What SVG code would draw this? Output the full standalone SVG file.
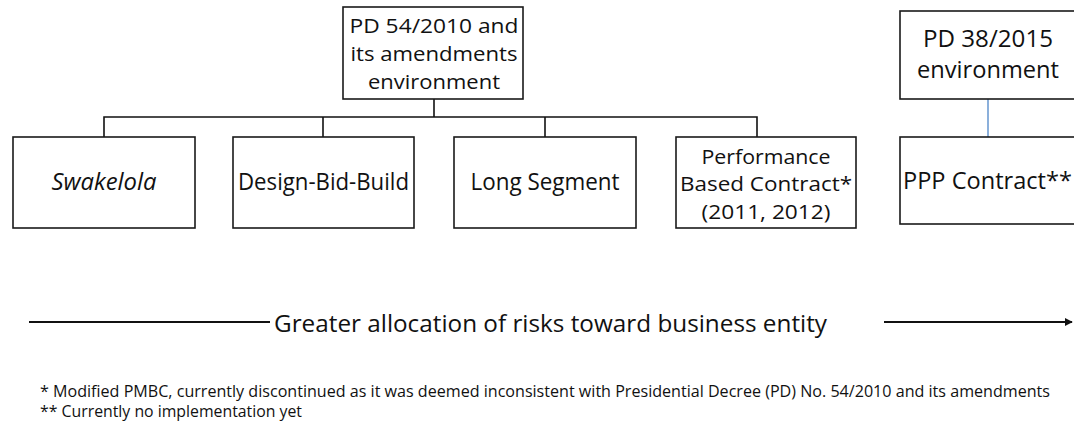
<svg xmlns="http://www.w3.org/2000/svg" width="1074" height="421" viewBox="0 0 1074 421">
  <defs>
    <style>
      .box { fill: #ffffff; stroke: #1a1a1a; stroke-width: 1.6; }
      .lbl { font-family: "Open Sans", "Liberation Sans", sans-serif; font-size: 23px; fill: #111111; }
      .tight { font-size: 20px; }
      .mid { text-anchor: middle; }
      .big { font-family: "Open Sans", "Liberation Sans", sans-serif; font-size: 24px; fill: #111111; }
      .note { font-family: "Open Sans", "Liberation Sans", sans-serif; font-size: 16px; fill: #111111; }
      .wire { fill: none; stroke: #111111; stroke-width: 1.6; }
      .wire-blue { fill: none; stroke: #5b8fcc; stroke-width: 1.4; }
      .axis { fill: none; stroke: #111111; stroke-width: 1.8; }
    </style>
    <marker id="head" viewBox="0 0 10 10" refX="9" refY="5" markerWidth="4.5" markerHeight="4.5" markerUnits="strokeWidth" orient="auto">
      <path d="M0,0 L10,5 L0,10 z" fill="#111111"/>
    </marker>
  </defs>

  <rect width="1074" height="421" fill="#ffffff"/>

  <!-- connectors -->
  <g id="connectors">
    <path class="wire" d="M434,99 V117"/>
    <path class="wire" d="M104,137 V117 H757 V137"/>
    <path class="wire" d="M323,117 V137"/>
    <path class="wire" d="M545,117 V137"/>
    <path class="wire-blue" d="M988,99 V137"/>
  </g>

  <!-- regime: PD 54/2010 -->
  <g id="pd54">
    <rect class="box" x="343" y="7" width="180" height="92"/>
    <text class="lbl tight mid" x="434" y="33" textLength="169" lengthAdjust="spacingAndGlyphs">PD 54/2010 and</text>
    <text class="lbl tight mid" x="434" y="61" textLength="167" lengthAdjust="spacingAndGlyphs">its amendments</text>
    <text class="lbl tight mid" x="434" y="89" textLength="132" lengthAdjust="spacingAndGlyphs">environment</text>
  </g>

  <!-- regime: PD 38/2015 -->
  <g id="pd38">
    <rect class="box" x="900" y="11" width="190" height="88"/>
    <text class="lbl mid" x="988" y="47" textLength="130" lengthAdjust="spacingAndGlyphs">PD 38/2015</text>
    <text class="lbl mid" x="988" y="78" textLength="142" lengthAdjust="spacingAndGlyphs">environment</text>
  </g>

  <!-- contract schemes -->
  <g id="swakelola">
    <rect class="box" x="13" y="137" width="182" height="91"/>
    <text class="lbl mid" x="104" y="190" font-style="italic" textLength="105" lengthAdjust="spacingAndGlyphs">Swakelola</text>
  </g>

  <g id="dbb">
    <rect class="box" x="233" y="137" width="181" height="91"/>
    <text class="lbl mid" x="323.5" y="190" textLength="171" lengthAdjust="spacingAndGlyphs">Design-Bid-Build</text>
  </g>

  <g id="long-segment">
    <rect class="box" x="454" y="137" width="182" height="91"/>
    <text class="lbl mid" x="545" y="190" textLength="149" lengthAdjust="spacingAndGlyphs">Long Segment</text>
  </g>

  <g id="pbc">
    <rect class="box" x="676" y="137" width="180" height="91"/>
    <text class="lbl tight mid" x="766" y="164" textLength="129" lengthAdjust="spacingAndGlyphs">Performance</text>
    <text class="lbl tight mid" x="766" y="191" textLength="172" lengthAdjust="spacingAndGlyphs">Based Contract*</text>
    <text class="lbl tight mid" x="766" y="219" textLength="129" lengthAdjust="spacingAndGlyphs">(2011, 2012)</text>
  </g>

  <g id="ppp">
    <rect class="box" x="900" y="137" width="190" height="87"/>
    <text class="lbl" x="903" y="189" textLength="169" lengthAdjust="spacingAndGlyphs">PPP Contract**</text>
  </g>

  <!-- risk allocation axis -->
  <g id="risk-axis">
    <path class="axis" d="M29,322 H270"/>
    <text class="big" x="274" y="332" textLength="553" lengthAdjust="spacingAndGlyphs">Greater allocation of risks toward business entity</text>
    <path class="axis" d="M884,322 H1072" marker-end="url(#head)"/>
  </g>

  <!-- footnotes -->
  <g id="notes">
    <text class="note" x="40" y="397" textLength="1010" lengthAdjust="spacingAndGlyphs">* Modified PMBC, currently discontinued as it was deemed inconsistent with Presidential Decree (PD) No. 54/2010 and its amendments</text>
    <text class="note" x="40" y="417" textLength="262" lengthAdjust="spacingAndGlyphs">** Currently no implementation yet</text>
  </g>
</svg>
